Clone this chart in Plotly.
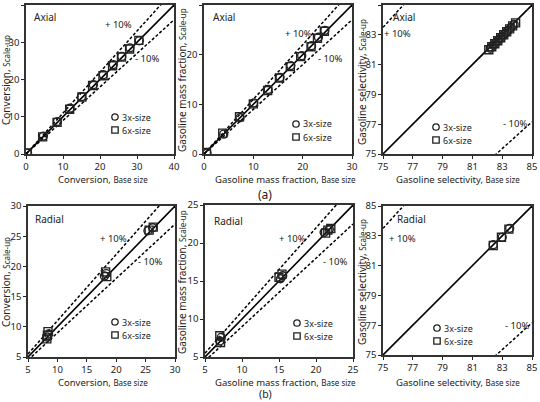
import plotly.graph_objects as go
import numpy as np

W, H = 540, 402

# ---------------- data ----------------
ax_conv_x3 = [0.4, 4.7, 8.5, 11.9, 15.0, 18.2, 20.9, 23.6, 25.9, 28.1, 30.6]
ax_conv_y3 = [0.3, 4.8, 8.7, 12.3, 15.4, 18.6, 21.3, 24.0, 26.2, 28.5, 30.4]
ax_conv_x6 = [0.3, 4.5, 8.4, 11.8, 15.1, 18.0, 20.8, 23.4, 25.8, 28.0, 30.5]
ax_conv_y6 = [0.2, 4.6, 8.5, 12.0, 15.3, 18.4, 21.0, 23.7, 26.0, 28.2, 30.5]

ax_gas_x3 = [0.6, 4.0, 7.3, 10.1, 13.0, 15.4, 17.6, 19.8, 21.8, 23.2, 24.5]
ax_gas_y3 = [0.2, 4.0, 7.3, 10.3, 13.0, 15.4, 17.8, 19.8, 21.8, 23.5, 24.9]
ax_gas_x6 = [0.5, 3.8, 7.2, 10.0, 12.9, 15.3, 17.5, 19.6, 21.7, 23.0, 24.4]
ax_gas_y6 = [0.3, 4.2, 7.5, 10.1, 12.8, 15.3, 17.6, 19.6, 21.6, 23.3, 24.7]

ax_sel_x3 = [82.2, 82.4, 82.6, 82.8, 83.0, 83.2, 83.4, 83.6, 83.8]
ax_sel_y3 = [82.1, 82.3, 82.5, 82.7, 82.9, 83.1, 83.3, 83.5, 83.7]
ax_sel_x6 = [82.1, 82.3, 82.5, 82.7, 82.9, 83.1, 83.3, 83.5, 83.7, 83.9]
ax_sel_y6 = [82.0, 82.2, 82.4, 82.6, 82.8, 83.0, 83.2, 83.4, 83.6, 83.8]

ra_conv_x3 = [8.3, 8.5, 18.0, 18.3, 25.4, 26.2]
ra_conv_y3 = [8.3, 8.8, 18.4, 18.8, 25.9, 26.4]
ra_conv_x6 = [8.2, 8.4, 8.3, 18.2, 18.4, 25.6, 26.3]
ra_conv_y6 = [8.0, 9.2, 8.6, 19.1, 18.3, 26.0, 26.5]

ra_gas_x3 = [7.0, 7.2, 15.2, 15.5, 21.1, 21.8]
ra_gas_y3 = [7.1, 7.6, 15.3, 15.7, 21.4, 21.8]
ra_gas_x6 = [7.1, 7.0, 15.0, 15.4, 21.3, 21.6, 22.0]
ra_gas_y6 = [6.9, 7.8, 15.5, 15.9, 21.3, 21.7, 21.9]

ra_sel_x3 = [82.4, 83.0, 83.5]
ra_sel_y3 = [82.4, 82.9, 83.5]
ra_sel_x6 = [82.4, 82.95, 83.45]
ra_sel_y6 = [82.35, 82.9, 83.45]

ranges = [(0, 40), (0, 30), (75, 85), (5, 30), (5, 25), (75, 85)]
ticks = [[0, 10, 20, 30, 40], [0, 10, 20, 30], [75, 77, 79, 81, 83, 85],
         [5, 10, 15, 20, 25, 30], [5, 10, 15, 20, 25], [75, 77, 79, 81, 83, 85]]
xnames = ["Conversion", "Gasoline mass fraction", "Gasoline selectivity"] * 2
labels = ["Axial"] * 3 + ["Radial"] * 3

# pixel boxes (left, right, top, bottom)
boxes = [(26, 174, 5, 154), (204, 352, 5, 154), (383, 532, 5, 154),
         (28, 175, 206, 357), (205, 353, 205, 357), (383, 532, 206, 355)]

series = [
    (ax_conv_x3, ax_conv_y3, ax_conv_x6, ax_conv_y6),
    (ax_gas_x3, ax_gas_y3, ax_gas_x6, ax_gas_y6),
    (ax_sel_x3, ax_sel_y3, ax_sel_x6, ax_sel_y6),
    (ra_conv_x3, ra_conv_y3, ra_conv_x6, ra_conv_y6),
    (ra_gas_x3, ra_gas_y3, ra_gas_x6, ra_gas_y6),
    (ra_sel_x3, ra_sel_y3, ra_sel_x6, ra_sel_y6),
]

FONT = "Noto Sans"
fig = go.Figure()
layout = dict(width=W, height=H, margin=dict(l=0, r=0, t=0, b=0, autoexpand=False),
              paper_bgcolor="white", plot_bgcolor="white", showlegend=False,
              font=dict(family=FONT, color="#222", size=10))
annotations = []
shapes = []

def px(x):
    return x / W

def py(y):
    return 1 - y / H

for i in range(6):
    n = i + 1
    xa = "x" if n == 1 else f"x{n}"
    ya = "y" if n == 1 else f"y{n}"
    l, r, t, b = boxes[i]
    lo, hi = ranges[i]
    axcommon = dict(range=[lo, hi], tickvals=ticks[i], ticks="outside", ticklen=3,
                    tickwidth=1.2, tickcolor="#222", showline=True, linecolor="#333",
                    linewidth=1.5, mirror=True, showgrid=False, zeroline=False,
                    automargin=False,
                    tickfont=dict(family=FONT, size=9.5, color="#222"))
    layout["xaxis" if n == 1 else f"xaxis{n}"] = dict(axcommon, domain=[px(l), px(r)], anchor=ya)
    layout["yaxis" if n == 1 else f"yaxis{n}"] = dict(axcommon, domain=[py(b), py(t)], anchor=xa)

    xs = np.linspace(lo, hi, 50)
    if i in (2, 5):
        up = 1.1 * xs + 1.0
        dn = 0.9 * xs + 0.66
    else:
        up = 1.1 * xs
        dn = 0.9 * xs
    fig.add_trace(go.Scatter(x=xs, y=xs, mode="lines", line=dict(color="black", width=1.6),
                             xaxis=xa, yaxis=ya))
    for yy in (up, dn):
        fig.add_trace(go.Scatter(x=xs, y=yy, mode="lines",
                                 line=dict(color="black", width=1.5, dash="3px,2px"),
                                 xaxis=xa, yaxis=ya))
    x3, y3, x6, y6 = series[i]
    fig.add_trace(go.Scatter(x=x3, y=y3, mode="markers", xaxis=xa, yaxis=ya,
                             marker=dict(symbol="circle-open", size=8, color="#222",
                                         line=dict(width=1.4, color="#222"))))
    fig.add_trace(go.Scatter(x=x6, y=y6, mode="markers", xaxis=xa, yaxis=ya,
                             marker=dict(symbol="square-open", size=8, color="#222",
                                         line=dict(width=1.4, color="#222"))))

def ann(x, y, text, size=10, xanchor="center", angle=0, yanchor="middle"):
    annotations.append(dict(x=px(x), y=py(y), xref="paper", yref="paper", text=text,
                            showarrow=False, xanchor=xanchor, yanchor=yanchor,
                            textangle=angle, borderpad=0,
                            font=dict(family=FONT, size=size, color="#222")))

label_pos = [(33, 17), (212, 17), (392, 17), (34, 219), (213, 221), (396, 219)]
plus_pos = [(118, 25), (298, 33), (397, 33), (113, 238), (292, 238), (402, 238)]
minus_pos = [(147, 59), (330, 59), (515, 124), (150, 261), (335, 261), (517, 325)]
leg_pos = [(115, 117), (296, 124), (436, 127), (115, 322), (297, 323), (437, 328)]
for i in range(6):
    ann(*label_pos[i], labels[i], size=10, xanchor="left")
    ann(*plus_pos[i], "+ 10%", size=9.5)
    ann(*minus_pos[i], "- 10%", size=9.5)
    lx, ly = leg_pos[i]
    s = 3.2
    shapes.append(dict(type="circle", xref="paper", yref="paper",
                       x0=px(lx - s), x1=px(lx + s), y0=py(ly + s), y1=py(ly - s),
                       line=dict(color="#222", width=1.3)))
    shapes.append(dict(type="rect", xref="paper", yref="paper",
                       x0=px(lx - s), x1=px(lx + s), y0=py(ly + 13 + s), y1=py(ly + 13 - s),
                       line=dict(color="#222", width=1.3)))
    ann(lx + 6, ly, "3x-size", size=9, xanchor="left")
    ann(lx + 6, ly + 13, "6x-size", size=9, xanchor="left")

xt_pos = [(103, 180), (285, 180), (458, 180), (103, 382), (285, 382), (458, 382)]
yt_pos = [(6, 80), (182, 80), (362, 82), (6, 282), (182, 282), (362, 282)]
for i in range(6):
    ann(*xt_pos[i], f"{xnames[i]}, <span style='font-size:8px'>Base size</span>", size=9.5)
    ann(*yt_pos[i], f"{xnames[i]}, <span style='font-size:8px'>Scale-up</span>", size=10, angle=-90)

ann(265, 194, "(a)", size=12)
ann(265, 401.5, "(b)", size=10.5, yanchor="bottom")

layout["annotations"] = annotations
layout["shapes"] = shapes
fig.update_layout(**layout)
fig.write_html("out.html", config={"displayModeBar": False},
               post_script="document.body.style.margin='0';document.body.style.padding='0';")
